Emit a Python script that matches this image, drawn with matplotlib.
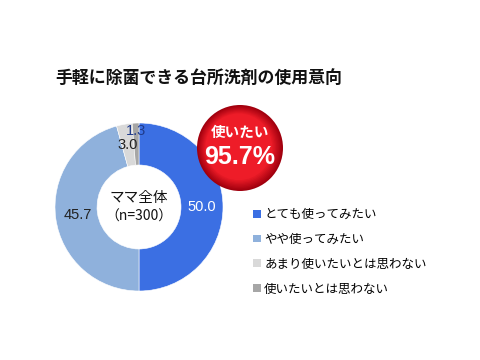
import numpy as np
import matplotlib
matplotlib.use("Agg")
import matplotlib.pyplot as plt
from matplotlib.patches import Circle
from matplotlib.colors import to_rgb

plt.rcParams['font.family'] = ['Noto Sans CJK JP', 'DejaVu Sans']

title = "手軽に除菌できる台所洗剤の使用意向"
categories = ["とても使ってみたい", "やや使ってみたい", "あまり使いたいとは思わない", "使いたいとは思わない"]
values = [50.0, 45.7, 3.0, 1.3]
colors = ["#3b6fe3", "#8fb1dc", "#d9d9d9", "#a6a6a6"]
label_colors = ["white", "#222222", "#222222", "#1f3a8a"]
label_dist = [63, 62, 63, 76]
center_lines = ["ママ全体", "（n=300）"]
badge_title = "使いたい"
badge_value = "95.7%"

num_font = ["Liberation Sans", "Noto Sans CJK JP"]

W, H = 480, 360
fig = plt.figure(figsize=(4.8, 3.6), dpi=100)
ax = fig.add_axes([0, 0, 1, 1])

cx, cy, R = 139, 360 - 207, 84
wedges, _ = ax.pie(values, colors=colors, startangle=90, counterclock=False,
                   center=(cx, cy), radius=R,
                   wedgeprops=dict(width=R * 0.5, edgecolor="white", linewidth=0.4))
ax.set_xlim(0, W)
ax.set_ylim(0, H)
ax.set_aspect("equal")
ax.axis("off")

# value labels at wedge mid angles
start = 90.0
for v, d, c in zip(values, label_dist, label_colors):
    mid = np.deg2rad(start - v * 3.6 / 2)
    start -= v * 3.6
    ax.text(cx + d * np.cos(mid), cy + d * np.sin(mid), f"{v:.1f}",
            ha="center", va="center", fontsize=10.5, color=c, family=num_font)

ax.text(cx, cy + 9, center_lines[0], ha="center", va="center", fontsize=10.5, color="#111111")
ax.text(cx, cy - 10, center_lines[1], ha="center", va="center", fontsize=10,
        color="#111111")

# red badge, faked radial shading with stacked circles
bx, by = 240, 360 - 148
dark, bright = np.array(to_rgb("#a0000e")), np.array(to_rgb("#ee1c28"))
steps = 14
for i in range(steps):
    t = min(1.0, (i / (steps - 1)) * 1.6)
    r = 43 - i * 1.2
    ax.add_patch(Circle((bx - i * 0.15, by + i * 0.15), r,
                        facecolor=tuple(dark + (bright - dark) * t), edgecolor="none", zorder=5))
ax.text(bx, by + 16, badge_title, ha="center", va="center", fontsize=10.5,
        fontweight="bold", color="white", zorder=6)
ax.text(bx, by - 9, badge_value, ha="center", va="center", fontsize=18,
        fontweight="bold", color="white", zorder=6, family=["Liberation Sans"])

ax.text(55, 360 - 78, title, ha="left", va="center", fontsize=12.2,
        fontweight="bold", color="#111111")

leg = ax.legend(wedges, categories, loc="upper left", bbox_to_anchor=(248 / W, 1 - 203 / H),
                frameon=False, fontsize=9, handlelength=0.6, handleheight=0.6,
                handletextpad=0.3, labelspacing=0.95, borderaxespad=0)
for p in leg.get_patches():
    p.set_edgecolor("none")

fig.savefig("out.png", dpi=100)
